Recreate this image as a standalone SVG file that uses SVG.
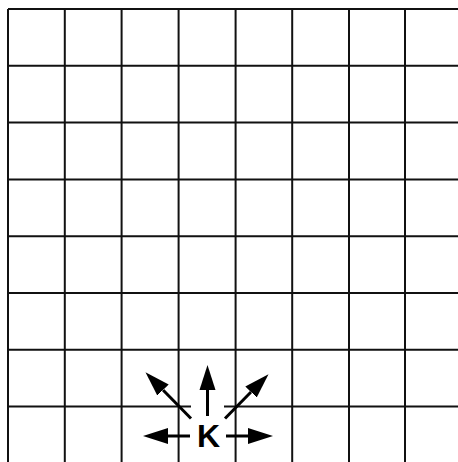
<svg xmlns="http://www.w3.org/2000/svg" width="458" height="462" viewBox="0 0 458 462">
<style>
.grid line{stroke:#111;stroke-width:2}
.arr{stroke:#000;stroke-width:3;fill:none;marker-end:url(#ah)}
.lbl{font-family:"Liberation Sans",Arial,sans-serif;font-weight:bold;font-size:32px;fill:#000}
</style>
<defs>
<marker id="ah" markerUnits="userSpaceOnUse" markerWidth="26" markerHeight="18" refX="0" refY="8" orient="auto" viewBox="0 0 26 16">
<path d="M0,0 L25,8 L0,16 Z" fill="#000"/>
</marker>
</defs>
<rect width="458" height="462" fill="#fff"/>
<g id="grid" class="grid">
<line x1="8" y1="9" x2="458" y2="9"/>
<line x1="8" y1="65.8" x2="458" y2="65.8"/>
<line x1="8" y1="122.6" x2="458" y2="122.6"/>
<line x1="8" y1="179.4" x2="458" y2="179.4"/>
<line x1="8" y1="236.2" x2="458" y2="236.2"/>
<line x1="8" y1="293" x2="458" y2="293"/>
<line x1="8" y1="349.8" x2="458" y2="349.8"/>
<line x1="8" y1="406.6" x2="458" y2="406.6"/>
<line x1="8" y1="9" x2="8" y2="462"/>
<line x1="64.8" y1="9" x2="64.8" y2="462"/>
<line x1="121.6" y1="9" x2="121.6" y2="462"/>
<line x1="178.6" y1="9" x2="178.6" y2="462"/>
<line x1="235.6" y1="9" x2="235.6" y2="462"/>
<line x1="292.2" y1="9" x2="292.2" y2="462"/>
<line x1="349" y1="9" x2="349" y2="462"/>
<line x1="405" y1="9" x2="405" y2="462"/>
</g>
<rect x="191" y="400" width="33" height="52" fill="#fff"/>
<g id="connectors">
<line class="arr" x1="207.5" y1="416" x2="207.5" y2="390"/>
<line class="arr" x1="190" y1="436" x2="168" y2="436"/>
<line class="arr" x1="226" y1="436" x2="248" y2="436"/>
<line class="arr" x1="191" y1="418.5" x2="163" y2="390"/>
<line class="arr" x1="225" y1="418.5" x2="251" y2="392"/>
</g>
<g id="king">
<text class="lbl" x="208.5" y="447" text-anchor="middle">K</text>
</g>
</svg>
